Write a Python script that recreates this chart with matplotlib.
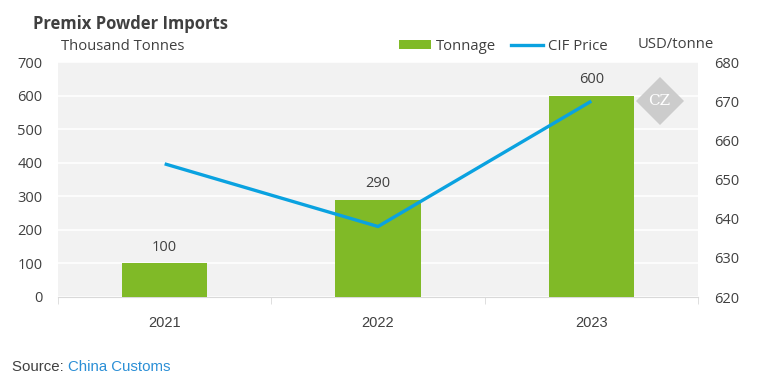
import matplotlib
matplotlib.use("Agg")
import matplotlib.pyplot as plt
from matplotlib.patches import Patch
from matplotlib.lines import Line2D
import numpy as np

years = ["2021", "2022", "2023"]
tonnage = [100, 290, 600]
cif_price = [654, 638, 670]
left_ticks = [0, 100, 200, 300, 400, 500, 600, 700]
right_ticks = [620, 630, 640, 650, 660, 670, 680]

GREEN = "#80BA27"
BLUE = "#0AA2E0"
TXT = "#404040"
BG = "#F2F2F2"

plt.rcParams['font.family'] = ['Open Sans', 'DejaVu Sans']
narrow = ['Liberation Sans Narrow', 'Liberation Sans', 'DejaVu Sans']

fig = plt.figure(figsize=(7.84, 3.80), dpi=100)
ax = fig.add_axes([58/784, 1-297/380, 640/784, (297-62)/380])
ax.set_facecolor(BG)
x = np.arange(len(years))
ax.bar(x, tonnage, width=0.4, color=GREEN, zorder=3)
ax.set_xlim(-0.5, 2.5)
ax.set_ylim(0, 700)
ax.set_yticks(left_ticks)
ax.yaxis.grid(True, color="white", linewidth=1.2, zorder=1)
ax.set_axisbelow(True)
for s in ["top", "right", "left"]:
    ax.spines[s].set_visible(False)
ax.spines["bottom"].set_color("#D9D9D9")
ax.tick_params(axis="y", length=0, pad=11, labelsize=10.5, labelcolor=TXT)
ax.set_xticks(x)
ax.set_xticklabels(years, family=narrow)
ax.set_xticks([-0.5, 0.5, 1.5, 2.5], minor=True)
ax.tick_params(axis="x", which="major", length=0, pad=14, labelsize=10.5, labelcolor=TXT)
ax.tick_params(axis="x", which="minor", length=5, color="#D9D9D9")

for xi, v in zip(x, tonnage):
    ax.annotate(str(v), (xi, v), xytext=(0, 6), textcoords="offset points",
                ha="center", va="bottom", fontsize=10.5, color=TXT)

ax2 = ax.twinx()
ax2.plot(x, cif_price, color=BLUE, linewidth=2.4, zorder=5, solid_capstyle="butt")
ax2.set_ylim(620, 680)
ax2.set_yticks(right_ticks)
for s in ["top", "right", "left", "bottom"]:
    ax2.spines[s].set_visible(False)
ax2.tick_params(axis="y", length=0, pad=11.5, labelsize=10.5, labelcolor=TXT)

# watermark diamond
ax.plot([2.32], [585], marker="D", markersize=24, color="#CCCCCC", zorder=2,
        markeredgewidth=0)
ax.text(2.32, 585, "CZ", ha="center", va="center", color="white", fontsize=11,
        family="DejaVu Serif", zorder=2)

fig.text(33/784, 1-24/380, "Premix Powder Imports", fontsize=12, fontweight="bold",
         color=TXT, va="center", ha="left")
fig.text(61/784, 1-46/380, "Thousand Tonnes", fontsize=10.7, color=TXT, va="center", ha="left")
fig.text(638/784, 1-45/380, "USD/tonne", fontsize=10.7, color=TXT, va="center", ha="left")

handles = [Patch(facecolor=GREEN, edgecolor="none"), Line2D([], [], color=BLUE, linewidth=2.4)]
fig.legend(handles, ["Tonnage", "CIF Price"], loc="center left",
           bbox_to_anchor=(399/784, 1-46/380), ncol=2, frameon=False,
           fontsize=10.7, handlelength=2.15, handleheight=0.55, handletextpad=0.3,
           columnspacing=1.05, labelcolor=TXT, borderpad=0, borderaxespad=0)

t1 = fig.text(12/784, 1-367/380, "Source: ", fontsize=10.8, color=TXT, va="center", ha="left",
              family=narrow)
fig.canvas.draw()
bb = t1.get_window_extent()
fig.text(bb.x1/784, 1-367/380, "China Customs", fontsize=10.8, color="#2B8FD6", va="center",
         ha="left", family=narrow)

fig.savefig("out.png", dpi=100, facecolor="white")
